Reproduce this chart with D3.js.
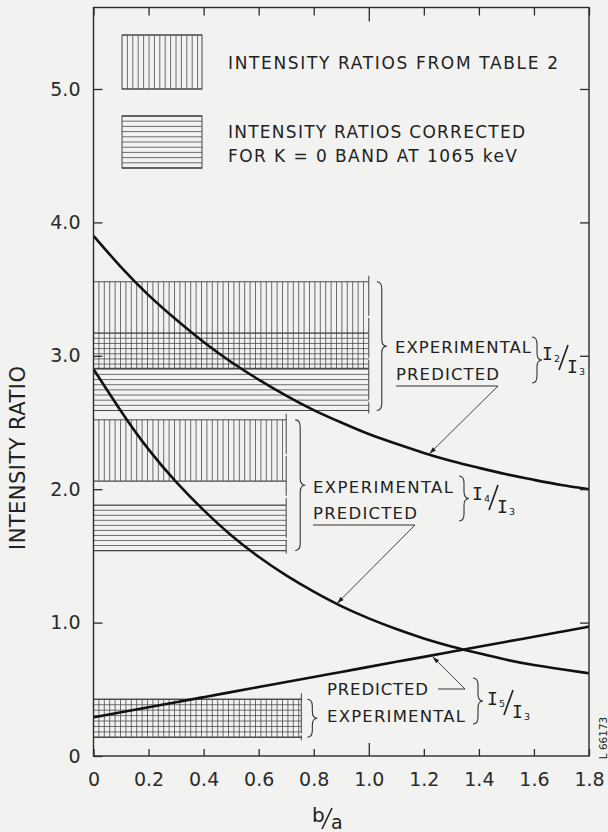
<!DOCTYPE html>
<html>
<head>
<meta charset="utf-8">
<script src="https://cdn.jsdelivr.net/npm/d3@7"></script>
<style>
  html, body { margin: 0; padding: 0; background: #f2f2f0; }
  svg { display: block; }
</style>
</head>
<body>
<svg id="chart"></svg>
<script>
const outerWidth = 608;
const outerHeight = 832;
const frame = {left: 93.5, top: 7.5, right: 589, bottom: 756};

// b/a sample points and predicted ratios
const ba     = [0, 0.1, 0.2, 0.3, 0.4, 0.5, 0.6, 0.7, 0.8, 0.9, 1.0, 1.1, 1.2, 1.3, 1.4, 1.5, 1.6, 1.7, 1.8];
const predI2 = [3.90, 3.66, 3.45, 3.27, 3.10, 2.95, 2.82, 2.70, 2.59, 2.50, 2.41, 2.34, 2.27, 2.21, 2.16, 2.11, 2.07, 2.03, 2.00];
const predI4 = [2.90, 2.58, 2.29, 2.05, 1.84, 1.65, 1.49, 1.35, 1.23, 1.12, 1.03, 0.95, 0.88, 0.82, 0.77, 0.72, 0.68, 0.65, 0.62];
const predI5 = [0.29, 0.328, 0.366, 0.403, 0.441, 0.479, 0.517, 0.554, 0.592, 0.630, 0.668, 0.706, 0.743, 0.781, 0.819, 0.857, 0.894, 0.932, 0.97];

// experimental bands
const expRatio  = ["I2", "I2", "I4", "I4", "I5", "I5"];
const expSource = ["table", "corrected", "table", "corrected", "table", "corrected"];
const expLow    = [2.905, 2.59, 2.06, 1.54, 0.14, 0.14];
const expHigh   = [3.555, 3.17, 2.52, 1.88, 0.425, 0.425];
const expUpTo   = [1.0, 1.0, 0.70, 0.70, 0.755, 0.755];

// where the "predicted" arrows touch the curves
const pointerAt = [1.22, 0.885, 1.232];

const xTicks = [0, 0.2, 0.4, 0.6, 0.8, 1.0, 1.2, 1.4, 1.6, 1.8];
const xTickLabels = ["0", "0.2", "0.4", "0.6", "0.8", "1.0", "1.2", "1.4", "1.6", "1.8"];
const yTicks = [0, 1, 2, 3, 4, 5];
const yTickLabels = ["0", "1.0", "2.0", "3.0", "4.0", "5.0"];

const legendTable = ["INTENSITY RATIOS FROM TABLE 2"];
const legendCorrected = ["INTENSITY RATIOS CORRECTED", "FOR K = 0 BAND AT 1065 keV"];

const x = d3.scaleLinear().domain([0, 1.8]).range([frame.left, frame.right]);
const y = d3.scaleLinear().domain([0, 5]).range([frame.bottom, 89]);

const svg = d3.select("#chart")
  .attr("width", outerWidth)
  .attr("height", outerHeight)
  .attr("font-family", "DejaVu Sans, sans-serif")
  .attr("fill", "#222");

svg.append("rect").attr("width", outerWidth).attr("height", outerHeight).attr("fill", "#f2f2f0");

svg.append("clipPath").attr("id", "plotclip")
  .append("rect")
  .attr("x", frame.left).attr("y", frame.top)
  .attr("width", frame.right - frame.left).attr("height", frame.bottom - frame.top);

function valueAt(series, v) {
  const i = Math.max(1, Math.min(d3.bisectRight(ba, v), ba.length - 1));
  const t = (v - ba[i - 1]) / (ba[i] - ba[i - 1]);
  return series[i - 1] + t * (series[i] - series[i - 1]);
}

function hatch(g, x0, x1, y0, y1, source) {
  const ink = "#4a4a4a";
  if (source === "table") {
    d3.range(x0 + 5.4, x1 - 1, 5.4).forEach(px => {
      g.append("line").attr("x1", px).attr("x2", px).attr("y1", y0).attr("y2", y1)
        .attr("stroke", ink).attr("stroke-width", 0.8);
    });
  } else {
    const n = Math.max(1, Math.round((y1 - y0) / 5.2));
    d3.range(n + 1).forEach(k => {
      const py = y0 + k * (y1 - y0) / n;
      g.append("line").attr("x1", x0).attr("x2", x1).attr("y1", py).attr("y2", py)
        .attr("stroke", ink).attr("stroke-width", 0.8);
    });
  }
  g.append("line").attr("x1", x0).attr("x2", x1).attr("y1", y0).attr("y2", y0)
    .attr("stroke", ink).attr("stroke-width", 1);
  g.append("line").attr("x1", x0).attr("x2", x1).attr("y1", y1).attr("y2", y1)
    .attr("stroke", ink).attr("stroke-width", 1.2);
}

function brace(g, bx, y1, y2, w) {
  const ym = (y1 + y2) / 2;
  const r = Math.min(7, (y2 - y1) / 4);
  const xc = bx + w * 0.5;
  const p = `M${bx},${y1} Q${xc},${y1} ${xc},${y1 + r} L${xc},${ym - r} Q${xc},${ym} ${bx + w},${ym}` +
            ` Q${xc},${ym} ${xc},${ym + r} L${xc},${y2 - r} Q${xc},${y2} ${bx},${y2}`;
  g.append("path").attr("d", p).attr("fill", "none").attr("stroke", "#333").attr("stroke-width", 1.1);
}

function arrow(g, x1, y1, x2, y2) {
  g.append("line").attr("x1", x1).attr("y1", y1).attr("x2", x2).attr("y2", y2)
    .attr("stroke", "#333").attr("stroke-width", 0.9);
  const len = Math.hypot(x2 - x1, y2 - y1);
  const ux = (x2 - x1) / len, uy = (y2 - y1) / len;
  const L = 7, W = 2.2;
  const pts = [[x2, y2], [x2 - L * ux + W * uy, y2 - L * uy - W * ux], [x2 - L * ux - W * uy, y2 - L * uy + W * ux]];
  g.append("polygon").attr("points", pts.map(p => p.join(",")).join(" ")).attr("fill", "#222");
}

function label(g, tx, ty, str, len, size) {
  return g.append("text").attr("x", tx).attr("y", ty)
    .attr("font-size", size)
    .attr("textLength", len).attr("lengthAdjust", "spacing")
    .text(str);
}

function ratioLabel(g, tx, yMid, num, den) {
  const mono = "DejaVu Sans Mono, monospace";
  g.append("text").attr("x", tx - 3).attr("y", yMid + 1).attr("font-family", mono).attr("font-size", 18).text("I");
  g.append("text").attr("x", tx + 9).attr("y", yMid + 3).attr("font-size", 9.5).text(num);
  g.append("line").attr("x1", tx + 14).attr("y1", yMid + 11).attr("x2", tx + 23).attr("y2", yMid - 14)
    .attr("stroke", "#222").attr("stroke-width", 1.7);
  g.append("text").attr("x", tx + 22).attr("y", yMid + 14).attr("font-family", mono).attr("font-size", 18).text("I");
  g.append("text").attr("x", tx + 34).attr("y", yMid + 16).attr("font-size", 9.5).text(den);
}

// experimental bands
const bands = svg.append("g");
expRatio.forEach((r, i) => {
  hatch(bands, x(0), x(expUpTo[i]), y(expHigh[i]), y(expLow[i]), expSource[i]);
});

// right edges of the band groups, and braces
const groups = ["I2", "I4", "I5"];
const braceGap = [8, 9, 6];
groups.forEach((r, j) => {
  const idx = expRatio.map((d, i) => d === r ? i : -1).filter(i => i >= 0);
  const top = y(d3.max(idx, i => expHigh[i]));
  const bot = y(d3.min(idx, i => expLow[i]));
  const xe = x(expUpTo[idx[0]]);
  bands.append("line").attr("x1", xe).attr("x2", xe).attr("y1", top - 6).attr("y2", bot + 3)
    .attr("stroke", "#444").attr("stroke-width", 1).attr("stroke-dasharray", "40,2");
  brace(bands, xe + braceGap[j], top, bot, 10);
});

// predicted curves
const line = d3.line().x((d, i) => x(ba[i])).y(d => y(d)).curve(d3.curveBasis);
const curves = svg.append("g").attr("clip-path", "url(#plotclip)");
[predI2, predI4, predI5].forEach(s => {
  curves.append("path").datum(s).attr("d", line)
    .attr("fill", "none").attr("stroke", "#111").attr("stroke-width", 2.6);
});

// frame and axes
svg.append("rect")
  .attr("x", frame.left).attr("y", frame.top)
  .attr("width", frame.right - frame.left).attr("height", frame.bottom - frame.top)
  .attr("fill", "none").attr("stroke", "#2b2b2b").attr("stroke-width", 1.4);

const axisFont = g => g.attr("font-family", "DejaVu Sans, sans-serif").attr("font-size", 19).attr("color", "#2b2b2b");

svg.append("g").attr("transform", `translate(0,${frame.bottom})`)
  .call(d3.axisBottom(x).tickValues(xTicks).tickFormat((d, i) => xTickLabels[i])
    .tickSize(-7).tickSizeOuter(0).tickPadding(17))
  .call(axisFont)
  .call(g => g.select(".domain").remove())
  .call(g => g.selectAll(".tick line").attr("y2", d => d === 1 ? -13 : -7).attr("stroke-width", 1.3));

svg.append("g").attr("transform", `translate(0,${frame.top})`)
  .call(d3.axisTop(x).tickValues(xTicks).tickFormat("").tickSize(-8).tickSizeOuter(0))
  .call(axisFont)
  .call(g => g.select(".domain").remove())
  .call(g => g.selectAll(".tick line").attr("y2", d => d === 1 ? 14 : 8).attr("stroke-width", 1.3));

svg.append("g").attr("transform", `translate(${frame.left},0)`)
  .call(d3.axisLeft(y).tickValues(yTicks).tickFormat((d, i) => yTickLabels[i])
    .tickSize(-9).tickSizeOuter(0).tickPadding(13))
  .call(axisFont)
  .call(g => g.select(".domain").remove())
  .call(g => g.selectAll(".tick line").attr("stroke-width", 1.3));

svg.append("g").attr("transform", `translate(${frame.right},0)`)
  .call(d3.axisRight(y).tickValues(yTicks.slice(1)).tickFormat("").tickSize(-9).tickSizeOuter(0))
  .call(axisFont)
  .call(g => g.select(".domain").remove())
  .call(g => g.selectAll(".tick line").attr("stroke-width", 1.3));

// axis titles
svg.append("text")
  .attr("transform", "translate(25,458) rotate(-90)")
  .attr("text-anchor", "middle").attr("font-size", 21)
  .attr("textLength", 184).attr("lengthAdjust", "spacing")
  .text("INTENSITY RATIO");

const xt = svg.append("g");
xt.append("text").attr("x", 312).attr("y", 822).attr("font-size", 20).text("b");
xt.append("line").attr("x1", 322).attr("y1", 829).attr("x2", 332).attr("y2", 808)
  .attr("stroke", "#222").attr("stroke-width", 1.6);
xt.append("text").attr("x", 331).attr("y", 829).attr("font-size", 19).text("a");

// legend
const legend = svg.append("g");
legend.append("rect").attr("x", 122).attr("y", 35).attr("width", 80).attr("height", 54)
  .attr("fill", "none").attr("stroke", "#444").attr("stroke-width", 1);
hatch(legend, 122, 202, 35, 89, "table");
legend.append("rect").attr("x", 122).attr("y", 116).attr("width", 80).attr("height", 52)
  .attr("fill", "none").attr("stroke", "#444").attr("stroke-width", 1);
hatch(legend, 122, 202, 116, 168, "corrected");
label(legend, 228, 69, legendTable[0], 330, 17);
label(legend, 228, 138, legendCorrected[0], 297, 17);
label(legend, 228, 162, legendCorrected[1], 289, 17);

// annotations
const ann = svg.append("g");

// I2/I3
label(ann, 395, 353, "EXPERIMENTAL", 136, 16.5);
label(ann, 396, 380, "PREDICTED", 103, 16.5);
ann.append("line").attr("x1", 396).attr("x2", 498).attr("y1", 386).attr("y2", 386)
  .attr("stroke", "#333").attr("stroke-width", 1.1);
arrow(ann, 498, 386, x(pointerAt[0]), y(valueAt(predI2, pointerAt[0])) - 1);
brace(ann, 532, 337, 383, 10);
ratioLabel(ann, 545, 359, "2", "3");

// I4/I3
label(ann, 313, 493, "EXPERIMENTAL", 140, 16.5);
label(ann, 313, 519, "PREDICTED", 104, 16.5);
ann.append("line").attr("x1", 313).attr("x2", 415).attr("y1", 525).attr("y2", 525)
  .attr("stroke", "#333").attr("stroke-width", 1.1);
arrow(ann, 415, 525, x(pointerAt[1]), y(valueAt(predI4, pointerAt[1])) - 1);
brace(ann, 459, 476, 521, 10);
ratioLabel(ann, 475, 499, "4", "3");

// I5/I3
label(ann, 327, 695, "PREDICTED", 101, 16.5);
label(ann, 327, 722, "EXPERIMENTAL", 138, 16.5);
ann.append("line").attr("x1", 438).attr("x2", 465).attr("y1", 689).attr("y2", 689)
  .attr("stroke", "#333").attr("stroke-width", 1);
arrow(ann, 465, 689, x(pointerAt[2]), y(valueAt(predI5, pointerAt[2])) + 1.5);
brace(ann, 473, 678, 724, 10);
ratioLabel(ann, 490, 704, "5", "3");

// drawing number
svg.append("text")
  .attr("transform", "translate(607,738) rotate(-90)")
  .attr("text-anchor", "middle").attr("font-size", 10.5)
  .text("L 66173");
</script>
</body>
</html>
